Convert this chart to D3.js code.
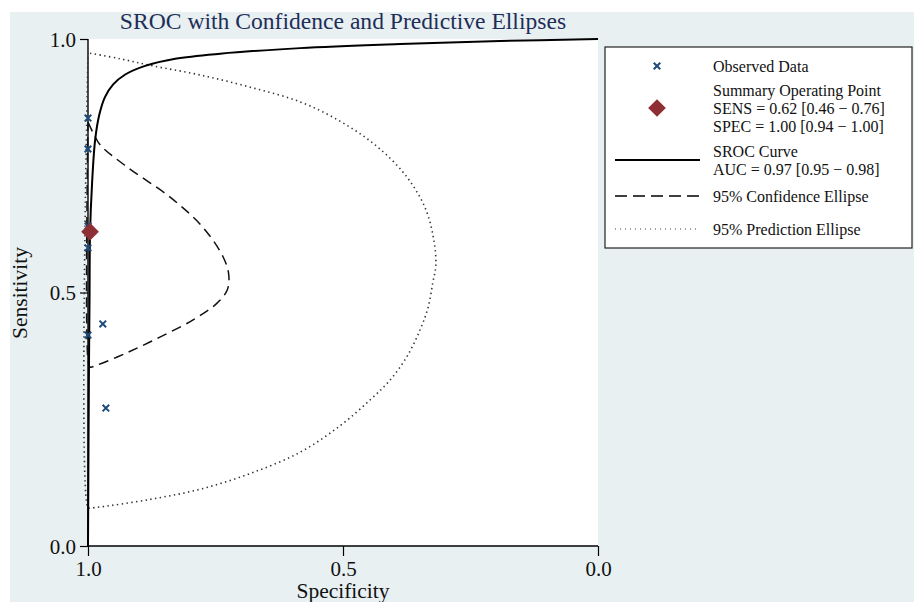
<!DOCTYPE html>
<html>
<head>
<meta charset="utf-8">
<script src="https://cdn.jsdelivr.net/npm/d3@7"></script>
<style>
  body { margin: 0; background: #fff; }
  svg { display: block; font-family: "Liberation Serif", "Times New Roman", serif; }
</style>
</head>
<body>
<svg id="chart"></svg>
<script>
// observed studies (specificity, sensitivity)
const observedSpec = [1.0, 1.0, 1.0, 1.0, 0.971, 1.0, 0.965];
const observedSens = [0.844, 0.783, 0.631, 0.588, 0.438, 0.416, 0.272];

// summary operating point
const summaryPoint = { spec: 0.996, sens: 0.62 };

// SROC curve
const srocSpec = [1.0, 0.999, 0.998, 0.997, 0.996, 0.992, 0.986, 0.978, 0.967, 0.951, 0.927, 0.888, 0.829, 0.741, 0.584, 0.388, 0.192, 0.0];
const srocSens = [0.0, 0.2, 0.367, 0.485, 0.617, 0.716, 0.801, 0.850, 0.885, 0.910, 0.930, 0.947, 0.961, 0.971, 0.982, 0.990, 0.996, 1.0];

// 95% confidence ellipse
const confSpec = [1.0, 0.990, 0.976, 0.924, 0.839, 0.775, 0.735, 0.724, 0.727, 0.747, 0.794, 0.859, 0.924, 0.982, 0.996, 1.0, 1.0];
const confSens = [0.836, 0.815, 0.791, 0.748, 0.688, 0.629, 0.570, 0.535, 0.505, 0.479, 0.446, 0.412, 0.381, 0.357, 0.353, 0.367, 0.836];

// 95% prediction ellipse
const predSpec = [0.996, 0.937, 0.873, 0.780, 0.682, 0.584, 0.506, 0.437, 0.378, 0.339, 0.322, 0.318, 0.324, 0.333, 0.349, 0.375, 0.408, 0.447, 0.506, 0.584, 0.682, 0.780, 0.878, 0.976, 0.996, 1.0, 1.0];
const predSens = [0.972, 0.961, 0.947, 0.929, 0.905, 0.876, 0.838, 0.791, 0.732, 0.667, 0.604, 0.554, 0.519, 0.471, 0.426, 0.373, 0.327, 0.288, 0.237, 0.185, 0.143, 0.112, 0.092, 0.077, 0.075, 0.075, 0.972];

const tickValues = [1.0, 0.5, 0.0];

const legendItems = [
    { kind: "cross", lines: ["Observed Data"] },
    { kind: "diamond", lines: ["Summary Operating Point", "SENS = 0.62 [0.46 \u2212 0.76]", "SPEC = 1.00 [0.94 \u2212 1.00]"] },
    { kind: "solid", lines: ["SROC Curve", "AUC = 0.97 [0.95 \u2212 0.98]"] },
    { kind: "dash", lines: ["95% Confidence Ellipse"] },
    { kind: "dot", lines: ["95% Prediction Ellipse"] }
];

const width = 914, height = 602;
const plot = { left: 88, right: 598, top: 39, bottom: 546 };
const crossColor = "#1d4a78";
const diamondColor = "#8e2f36";

const svg = d3.select("#chart").attr("width", width).attr("height", height);

svg.append("rect").attr("x", 10).attr("y", 12).attr("width", width - 10).attr("height", height - 12)
    .attr("fill", "#e8f0f2");
svg.append("rect").attr("x", plot.left).attr("y", plot.top)
    .attr("width", plot.right - plot.left).attr("height", plot.bottom - plot.top)
    .attr("fill", "#fff");

const x = d3.scaleLinear().domain([1, 0]).range([plot.left, plot.right]);
const y = d3.scaleLinear().domain([0, 1]).range([plot.bottom, plot.top]);

// title
svg.append("text")
    .attr("x", 343).attr("y", 29)
    .attr("text-anchor", "middle")
    .attr("font-size", 23.6)
    .attr("fill", "#1e2e58")
    .text("SROC with Confidence and Predictive Ellipses");

// axes
const xAxis = svg.append("g")
    .attr("transform", `translate(0,${plot.bottom})`)
    .call(d3.axisBottom(x).tickValues(tickValues).tickFormat(d3.format(".1f")).tickSize(10).tickPadding(5));
const yAxis = svg.append("g")
    .attr("transform", `translate(${plot.left},0)`)
    .call(d3.axisLeft(y).tickValues(tickValues).tickFormat(d3.format(".1f")).tickSize(8).tickPadding(4));

[xAxis, yAxis].forEach(g => {
    g.select(".domain").attr("stroke", "#000").attr("stroke-width", 1.4);
    g.selectAll(".tick line").attr("stroke", "#000").attr("stroke-width", 1.2);
    g.selectAll(".tick text").attr("font-size", 21).attr("fill", "#111")
        .attr("font-family", "Liberation Serif, serif");
});
xAxis.select(".domain").attr("d", `M${plot.left},0H${plot.right}`);
yAxis.select(".domain").attr("d", `M0,${plot.bottom}V${plot.top}`);
yAxis.selectAll(".tick text").attr("dy", "0.35em");

svg.append("text")
    .attr("x", 343).attr("y", 598)
    .attr("text-anchor", "middle")
    .attr("font-size", 21.5)
    .attr("fill", "#111")
    .text("Specificity");
svg.append("text")
    .attr("transform", "translate(27,293) rotate(-90)")
    .attr("text-anchor", "middle")
    .attr("font-size", 21.5)
    .attr("fill", "#111")
    .text("Sensitivity");

const line = d3.line().x(d => x(d[0])).y(d => y(d[1])).curve(d3.curveCatmullRom.alpha(0.5));
const zip = (a, b) => a.map((v, i) => [v, b[i]]);

const g = svg.append("g");

g.append("path")
    .attr("d", line(zip(predSpec, predSens)))
    .attr("fill", "none").attr("stroke", "#333").attr("stroke-width", 1.6)
    .attr("stroke-dasharray", "1.4,3.4");

g.append("path")
    .attr("d", line(zip(confSpec, confSens)))
    .attr("fill", "none").attr("stroke", "#111").attr("stroke-width", 1.5)
    .attr("stroke-dasharray", "10,6");

g.append("path")
    .attr("d", line(zip(srocSpec, srocSens)))
    .attr("fill", "none").attr("stroke", "#000").attr("stroke-width", 2);

const cross = d3.symbol().type(d3.symbolX).size(30);

g.selectAll(".obs")
    .data(zip(observedSpec, observedSens))
    .join("path")
    .attr("class", "obs")
    .attr("transform", d => `translate(${x(d[0])},${y(d[1])})`)
    .attr("d", cross)
    .attr("fill", "none").attr("stroke", crossColor).attr("stroke-width", 2);

const diamond = d3.symbol().type(d3.symbolDiamond2).size(200);
g.append("path")
    .attr("transform", `translate(${x(summaryPoint.spec)},${y(summaryPoint.sens)})`)
    .attr("d", diamond)
    .attr("fill", diamondColor);

// legend
const legend = svg.append("g").attr("transform", "translate(605,47)");
legend.append("rect")
    .attr("width", 307).attr("height", 201)
    .attr("fill", "#fff").attr("stroke", "#222").attr("stroke-width", 1.2);

const rowY = [19, 61, 113, 149, 182];
const lineH = 18;
legendItems.forEach((item, i) => {
    const cy = rowY[i];
    const row = legend.append("g");
    if (item.kind === "cross") {
        row.append("path").attr("transform", `translate(52,${cy})`).attr("d", cross)
            .attr("fill", "none").attr("stroke", crossColor).attr("stroke-width", 2);
    } else if (item.kind === "diamond") {
        row.append("path").attr("transform", `translate(52,${cy})`).attr("d", diamond)
            .attr("fill", diamondColor);
    } else {
        row.append("line").attr("x1", 10).attr("x2", 95).attr("y1", cy).attr("y2", cy)
            .attr("stroke", item.kind === "dot" ? "#444" : "#000")
            .attr("stroke-width", item.kind === "solid" ? 2 : item.kind === "dash" ? 1.6 : 1.1)
            .attr("stroke-dasharray", item.kind === "dash" ? "12,6" : item.kind === "dot" ? "1,4" : null);
    }
    const n = item.lines.length;
    item.lines.forEach((t, j) => {
        row.append("text")
            .attr("x", 108)
            .attr("y", cy + (j - (n - 1) / 2) * lineH)
            .attr("dy", "0.35em")
            .attr("font-size", 16)
            .attr("fill", "#111")
            .text(t);
    });
});
</script>
</body>
</html>
